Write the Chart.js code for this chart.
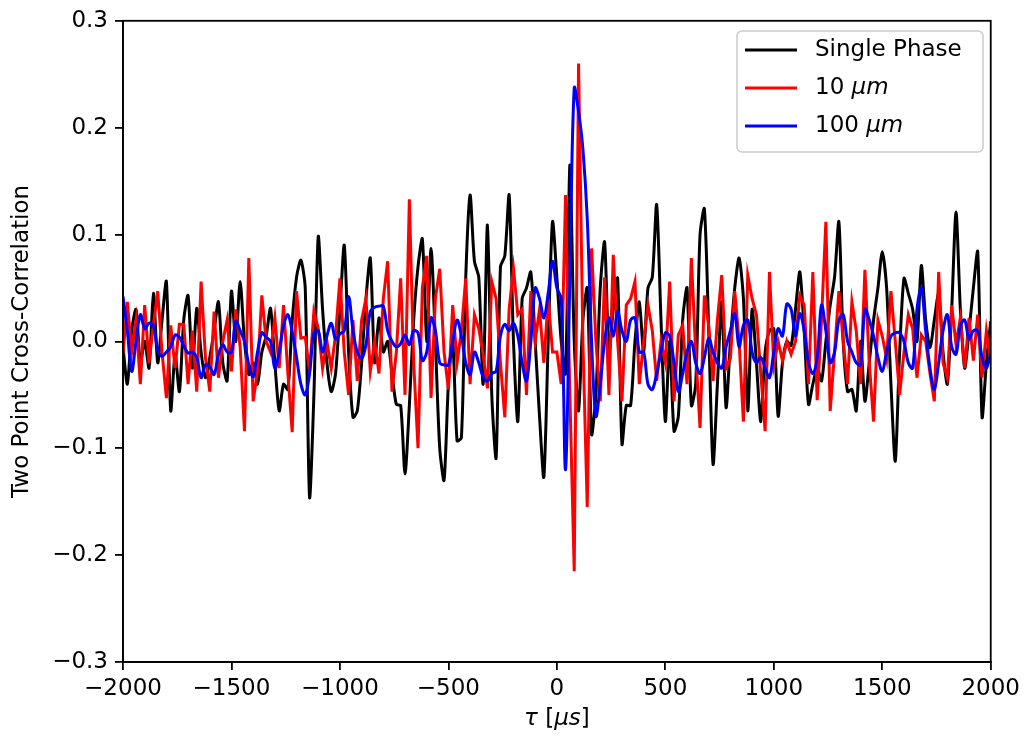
<!DOCTYPE html>
<html>
<head>
    <title>Two Point Cross-Correlation</title>
    <script src="https://cdn.jsdelivr.net/npm/chart.js"></script>
    <style>
        body { margin: 0; background: #fff; }
    </style>
</head>
<body>
    <canvas id="xcorr" width="1025" height="739"></canvas>
    <script>
        // time lag grid, 20 us spacing
        const tau = Array.from({ length: 201 }, (_, i) => -2000 + 20 * i);

        const singlePhase = [
            -0.005, -0.04, 0.01, 0.03, -0.02, 0.0, -0.025, 0.045, -0.02, 0.02,
            0.056, -0.065, -0.012, -0.047, 0.02, 0.043, -0.025, 0.031, -0.01, -0.034,
            -0.015, 0.01, 0.037, -0.02, -0.037, 0.047, 0.0, 0.056, 0.0, -0.031,
            -0.02, -0.04, -0.01, 0.005, 0.031, -0.02, -0.065, -0.04, -0.045, 0.019,
            0.06, 0.076, 0.05, -0.146, -0.05, 0.098, 0.03, -0.02, -0.047, -0.03,
            0.03, 0.09, -0.01, -0.071, -0.065, -0.02, 0.04, 0.078, -0.02, 0.022,
            -0.01, 0.0, -0.03, -0.059, -0.06, -0.124, -0.06, 0.02, 0.07, 0.096,
            0.0, 0.087, 0.0, -0.1, -0.13, -0.04, 0.0, -0.093, -0.09, 0.06,
            0.137, 0.075, 0.06, -0.04, 0.109, -0.05, -0.109, 0.07, 0.08, 0.137,
            0.0, -0.075, 0.04, 0.05, 0.065, 0.0, -0.07, -0.127, 0.0, 0.112,
            0.06, 0.0, -0.03, 0.165, 0.0, -0.065, 0.02, 0.05, -0.087, -0.05,
            0.05, 0.093, -0.01, 0.03, 0.059, -0.096, -0.06, -0.06, 0.0, 0.037,
            -0.01, 0.05, 0.06, 0.128, 0.02, -0.075, 0.0, -0.084, -0.07, 0.02,
            0.05, -0.06, -0.04, 0.1, 0.124, 0.01, -0.115, -0.04, 0.037, -0.062,
            0.0, 0.05, 0.078, 0.04, -0.065, 0.03, -0.02, -0.075, -0.01, 0.01,
            0.012, -0.07, -0.02, 0.0, -0.004, 0.03, 0.065, 0.01, -0.059, -0.04,
            -0.025, -0.037, 0.0, 0.034, 0.06, 0.112, 0.0, -0.047, -0.045, -0.065,
            0.0, -0.056, -0.02, 0.02, 0.05, 0.084, 0.05, -0.04, -0.112, -0.01,
            0.059, 0.045, 0.03, 0.0, 0.071, 0.02, -0.006, 0.02, 0.045, -0.01,
            -0.04, 0.03, 0.121, 0.03, -0.025, 0.01, 0.05, 0.084, -0.071, -0.02,
            0.019
        ];

        const bubbles10 = [
            -0.012, 0.037, -0.01, 0.02, -0.04, 0.034, -0.02, 0.015, 0.047, -0.01,
            -0.053, 0.015, -0.025, 0.016, 0.016, -0.04, 0.01, -0.047, 0.056, -0.015,
            -0.047, 0.028, -0.034, 0.0, 0.02, -0.028, 0.03, -0.005, -0.084, 0.078,
            -0.056, -0.028, 0.043, 0.0, -0.01, 0.022, -0.025, 0.034, -0.03, -0.085,
            0.047, 0.003, 0.004, -0.028, 0.028, 0.012, -0.025, 0.0, -0.025, 0.006,
            0.059, -0.01, -0.05, 0.02, -0.037, 0.02, 0.04, -0.028, 0.0, -0.03,
            0.04, 0.075, -0.047, -0.01, 0.059, -0.05, 0.133, -0.02, -0.1, 0.05,
            0.08, -0.053, 0.04, 0.068, -0.01, -0.045, 0.034, -0.02, 0.01, 0.059,
            -0.04, 0.025, 0.012, -0.012, -0.044, 0.056, 0.04, -0.02, -0.071, 0.03,
            0.068, 0.025, 0.03, -0.05, 0.047, 0.0, 0.03, -0.02, 0.04, -0.01,
            -0.01, -0.04, 0.137, -0.05, -0.215, 0.26, 0.0, -0.155, 0.087, 0.0,
            -0.056, 0.06, -0.05, 0.081, 0.0, -0.056, 0.034, 0.04, 0.056, -0.04,
            0.0, 0.034, 0.01, -0.037, 0.0, -0.02, 0.056, -0.056, 0.006, 0.015,
            -0.04, 0.078, -0.01, -0.081, 0.043, 0.015, -0.037, 0.02, 0.062, -0.025,
            -0.016, 0.047, 0.0, -0.075, 0.062, 0.04, 0.025, -0.03, -0.084, 0.065,
            -0.022, 0.0, -0.018, 0.0, -0.012, 0.0, 0.043, 0.034, -0.04, 0.065,
            -0.055, 0.02, 0.112, -0.065, -0.01, 0.047, 0.0, -0.04, 0.037, 0.01,
            -0.04, 0.067, -0.02, -0.075, 0.02, 0.005, -0.016, 0.047, 0.0, -0.05,
            -0.01, 0.025, 0.012, -0.034, 0.006, 0.0, -0.03, -0.056, 0.065, -0.02,
            -0.034, 0.034, -0.003, 0.022, -0.025, 0.022, -0.018, 0.025, -0.034, 0.01,
            -0.02
        ];

        const bubbles100 = [
            0.042, 0.01, -0.028, 0.0, 0.025, 0.012, 0.017, 0.015, -0.008, -0.014,
            -0.01, -0.005, 0.006, 0.004, -0.004, -0.011, -0.01, -0.015, -0.034, -0.022,
            -0.024, -0.031, -0.012, -0.003, -0.01, -0.01, 0.019, 0.01, 0.0, -0.022,
            -0.033, -0.01, 0.008, 0.004, 0.0, -0.025, -0.01, 0.015, 0.025, 0.009,
            -0.015, -0.04, -0.05, -0.03, 0.008, 0.01, -0.01, 0.005, 0.017, 0.002,
            0.007, 0.01, 0.042, 0.01, -0.01, -0.016, -0.003, 0.028, 0.032, 0.033,
            0.033, 0.01, 0.0, -0.005, -0.002, 0.006, -0.003, 0.01, 0.008, -0.018,
            -0.01, 0.022, 0.01, -0.02, -0.022, -0.022, 0.0, 0.02, 0.005, -0.02,
            -0.031, -0.01, -0.02, -0.033, -0.037, -0.03, -0.028, 0.005, 0.016, 0.01,
            0.017, 0.005, -0.02, -0.037, 0.0, 0.05, 0.04, 0.022, 0.045, 0.075,
            0.05, 0.04, -0.12, 0.06, 0.237, 0.215, 0.18, 0.115, 0.0, -0.07,
            -0.04, 0.0, 0.022, 0.005, 0.028, 0.01, 0.0, 0.02, 0.022, -0.01,
            -0.01, -0.04, -0.045, -0.03, -0.01, 0.008, 0.005, -0.02, -0.047, -0.03,
            -0.01, 0.0, -0.02, -0.03, -0.015, 0.003, -0.01, -0.02, -0.025, -0.005,
            0.01, 0.026, -0.005, 0.015, 0.02, -0.01, -0.02, -0.015, -0.025, -0.034,
            -0.01, 0.012, 0.005, 0.035, 0.03, 0.005, 0.026, 0.01, -0.02, -0.03,
            -0.015, 0.034, 0.01, -0.02, -0.01, 0.02, 0.025, 0.0, -0.01, -0.02,
            -0.022, 0.03, 0.02, 0.005, -0.015, -0.028, -0.01, 0.005, 0.008, 0.008,
            0.0, -0.02, -0.025, 0.03, 0.05, 0.01, -0.025, -0.045, -0.02, 0.01,
            0.025, -0.005, -0.012, 0.015, 0.02, 0.002, 0.01, 0.01, -0.015, -0.025,
            -0.01
        ];

        const seriesLabels = ['Single Phase', '10 μm', '100 μm'];
        const seriesColors = ['#000000', '#ff0000', '#0000ff'];
        const FONT = "'DejaVu Sans', sans-serif";
        const FS = 23;

        const minus = s => String(s).replace('-', '\u2212');
        const pts = ys => tau.map((t, i) => ({ x: t, y: ys[i] }));

        // full box around the axes, like matplotlib spines
        const frame = {
            id: 'frame',
            afterDraw(chart) {
                const a = chart.chartArea, ctx = chart.ctx;
                ctx.save();
                ctx.strokeStyle = '#000';
                ctx.lineWidth = 1.8;
                ctx.strokeRect(a.left, a.top, a.right - a.left, a.bottom - a.top);
                ctx.restore();
            }
        };

        // x label with italic greek letters
        const xTitle = {
            id: 'xTitle',
            afterDraw(chart) {
                const ctx = chart.ctx, a = chart.chartArea;
                const parts = [['italic', 'τ'], ['normal', ' ['], ['italic', 'μs'], ['normal', ']']];
                ctx.save();
                ctx.fillStyle = '#000';
                ctx.textBaseline = 'middle';
                let w = 0;
                parts.forEach(p => { ctx.font = p[0] + ' ' + FS + 'px ' + FONT; w += ctx.measureText(p[1]).width; });
                let x = (a.left + a.right) / 2 - w / 2;
                parts.forEach(p => {
                    ctx.font = p[0] + ' ' + FS + 'px ' + FONT;
                    ctx.fillText(p[1], x, 719);
                    x += ctx.measureText(p[1]).width;
                });
                ctx.restore();
            }
        };

        // legend box in the upper right corner
        const legendBox = {
            id: 'legendBox',
            afterDraw(chart) {
                const ctx = chart.ctx;
                const bx = 737, by = 31, bw = 246, bh = 121, r = 5;
                ctx.save();
                ctx.beginPath();
                ctx.roundRect(bx, by, bw, bh, r);
                ctx.fillStyle = 'rgba(255,255,255,0.8)';
                ctx.fill();
                ctx.strokeStyle = '#cccccc';
                ctx.lineWidth = 1.5;
                ctx.stroke();
                const rows = [50, 88, 126];
                seriesLabels.forEach((lab, i) => {
                    ctx.beginPath();
                    ctx.moveTo(745, rows[i]);
                    ctx.lineTo(797, rows[i]);
                    ctx.strokeStyle = seriesColors[i];
                    ctx.lineWidth = 3;
                    ctx.stroke();
                    ctx.fillStyle = '#000';
                    ctx.textBaseline = 'middle';
                    let x = 815;
                    if (lab.endsWith('μm')) {
                        const num = lab.slice(0, -2);
                        ctx.font = FS + 'px ' + FONT;
                        ctx.fillText(num, x, rows[i]);
                        x += ctx.measureText(num).width;
                        ctx.font = 'italic ' + FS + 'px ' + FONT;
                        ctx.fillText('μm', x, rows[i]);
                    } else {
                        ctx.font = FS + 'px ' + FONT;
                        ctx.fillText(lab, x, rows[i]);
                    }
                });
                ctx.restore();
            }
        };

        const ctx = document.getElementById('xcorr').getContext('2d');
        new Chart(ctx, {
            type: 'line',
            data: {
                datasets: [
                    { label: seriesLabels[0], data: pts(singlePhase), borderColor: seriesColors[0], borderWidth: 3, tension: 0.25, order: 2 },
                    { label: seriesLabels[1], data: pts(bubbles10), borderColor: seriesColors[1], borderWidth: 3, tension: 0, order: 1 },
                    { label: seriesLabels[2], data: pts(bubbles100), borderColor: seriesColors[2], borderWidth: 3, tension: 0.35, order: 0 }
                ]
            },
            options: {
                responsive: false,
                animation: false,
                devicePixelRatio: 1,
                elements: { point: { radius: 0 } },
                layout: { padding: { top: 18, right: 32, left: 0, bottom: 0 } },
                plugins: { legend: { display: false }, tooltip: { enabled: false } },
                scales: {
                    x: {
                        type: 'linear',
                        min: -2000,
                        max: 2000,
                        afterFit: s => { s.height = 77; },
                        grid: { drawOnChartArea: false, drawTicks: true, tickLength: 8, color: '#000', lineWidth: 1.8 },
                        border: { color: '#000', width: 1.8 },
                        ticks: {
                            stepSize: 500,
                            padding: 5,
                            color: '#000',
                            font: { family: FONT, size: FS },
                            maxRotation: 0,
                            callback: v => minus(v)
                        }
                    },
                    y: {
                        min: -0.3,
                        max: 0.3,
                        afterFit: s => { s.width = 123; },
                        grid: { drawOnChartArea: false, drawTicks: true, tickLength: 8, color: '#000', lineWidth: 1.8 },
                        border: { color: '#000', width: 1.8 },
                        title: {
                            display: true,
                            text: 'Two Point Cross-Correlation',
                            color: '#000',
                            font: { family: FONT, size: FS },
                            padding: { top: 8, bottom: 0 }
                        },
                        ticks: {
                            stepSize: 0.1,
                            padding: 7,
                            color: '#000',
                            font: { family: FONT, size: FS },
                            callback: v => minus(v.toFixed(1))
                        }
                    }
                }
            },
            plugins: [frame, xTitle, legendBox]
        });
    </script>
</body>
</html>
